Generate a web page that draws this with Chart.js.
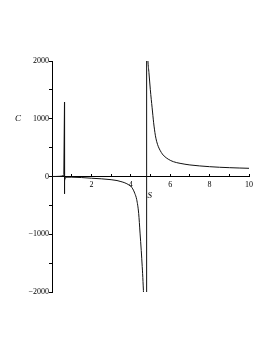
<!DOCTYPE html>
<html><head><meta charset="utf-8">
<script src="https://cdn.jsdelivr.net/npm/chart.js@4"></script>
<style>html,body{margin:0;padding:0;background:#fff}#wrap{width:273px;height:353px;position:relative}canvas{display:block}</style>
</head><body><div id="wrap"><canvas id="c" width="273" height="353"></canvas></div>
<script>
// Near-origin part with the narrow spike
const spikeS = [0, 0.2, 0.4, 0.5, 0.56, 0.6, 0.634, 0.634, 0.64, 0.66, 0.7];
const spikeC = [0, 1, 4, 8, 15, 35, 1290, -300, -70, -25, -12];
// Left branch approaching the pole from below
const leftS = [0.7, 1.0, 1.5, 2.0, 2.5, 3.0, 3.3, 3.5, 3.7, 3.9, 4.0, 4.1, 4.2, 4.3, 4.4, 4.47, 4.53, 4.58, 4.62, 4.66, 4.70];
const leftC = [-12, -12, -18, -30, -40, -55, -70, -88, -110, -145, -170, -215, -290, -400, -640, -980, -1280, -1560, -1820, -2150, -2600];
// Connector drawn across the pole
const poleS = [4.70, 4.797, 4.797, 4.81];
const poleC = [-2600, -2600, 2600, 2600];
// Right branch
const rightS = [4.81, 4.84, 4.87, 4.92, 4.99, 5.04, 5.08, 5.12, 5.16, 5.2, 5.25, 5.31, 5.4, 5.5, 5.6, 5.69, 5.9, 6.16, 6.5, 7, 7.5, 8, 8.5, 9, 9.5, 10];
const rightC = [2600, 2250, 2000, 1800, 1510, 1330, 1200, 1060, 930, 820, 705, 610, 515, 445, 390, 355, 300, 257, 228, 200, 183, 170, 160, 153, 147, 142];
// Axis ticks
const xLabels = [2, 4, 6, 8, 10];
const yLabels = [-2000, -1000, 0, 1000, 2000];

const pts = (xs, ys) => xs.map((v, i) => ({x: v, y: ys[i]}));
const serif = '"Liberation Serif", "Times New Roman", serif';
const lineDs = (data, smooth) => ({
  data, showLine: true, pointRadius: 0, borderColor: '#111', borderWidth: 1,
  cubicInterpolationMode: smooth ? 'monotone' : 'default', tension: 0, fill: false
});

const titles = {
  id: 'titles',
  afterDraw(chart) {
    const {ctx} = chart; const x = chart.scales.x, y = chart.scales.y;
    ctx.save();
    ctx.fillStyle = '#000';
    ctx.font = 'italic 9px ' + serif;
    ctx.textAlign = 'left'; ctx.textBaseline = 'middle';
    ctx.fillText('C', x.left - 37, y.getPixelForValue(1000));
    ctx.fillText('S', x.getPixelForValue(4.85), y.getPixelForValue(0) + 19);
    ctx.restore();
  }
};

new Chart(document.getElementById('c'), {
  type: 'scatter',
  data: { datasets: [
    lineDs(pts(spikeS, spikeC), false),
    lineDs(pts(leftS, leftC), true),
    lineDs(pts(poleS, poleC), false),
    lineDs(pts(rightS, rightC), true)
  ]},
  options: {
    responsive: false, animation: false, devicePixelRatio: 1,
    layout: { padding: { left: 0, right: 24, top: 61, bottom: 61 } },
    plugins: { legend: { display: false }, tooltip: { enabled: false } },
    scales: {
      x: {
        type: 'linear', min: 0, max: 10, position: { y: 0 },
        grid: { drawOnChartArea: false, drawTicks: true, tickLength: -3, color: '#000' },
        border: { color: '#000', width: 1 },
        ticks: { stepSize: 1, autoSkip: false, maxRotation: 0, padding: 7, color: '#000',
          font: { family: serif, size: 8 },
          callback: v => xLabels.includes(v) ? String(v) : '' }
      },
      y: {
        type: 'linear', min: -2000, max: 2000, position: 'left',
        afterFit: s => { s.width = 52; },
        grid: { drawOnChartArea: false, drawTicks: true, tickLength: 3, color: '#000' },
        border: { color: '#000', width: 1 },
        ticks: { stepSize: 500, autoSkip: false, padding: 0, color: '#000',
          font: { family: serif, size: 8 },
          callback: v => yLabels.includes(v) ? (v < 0 ? '\u2212' + Math.abs(v) : String(v)) : '' }
      }
    }
  },
  plugins: [titles]
});
</script>
</body></html>
